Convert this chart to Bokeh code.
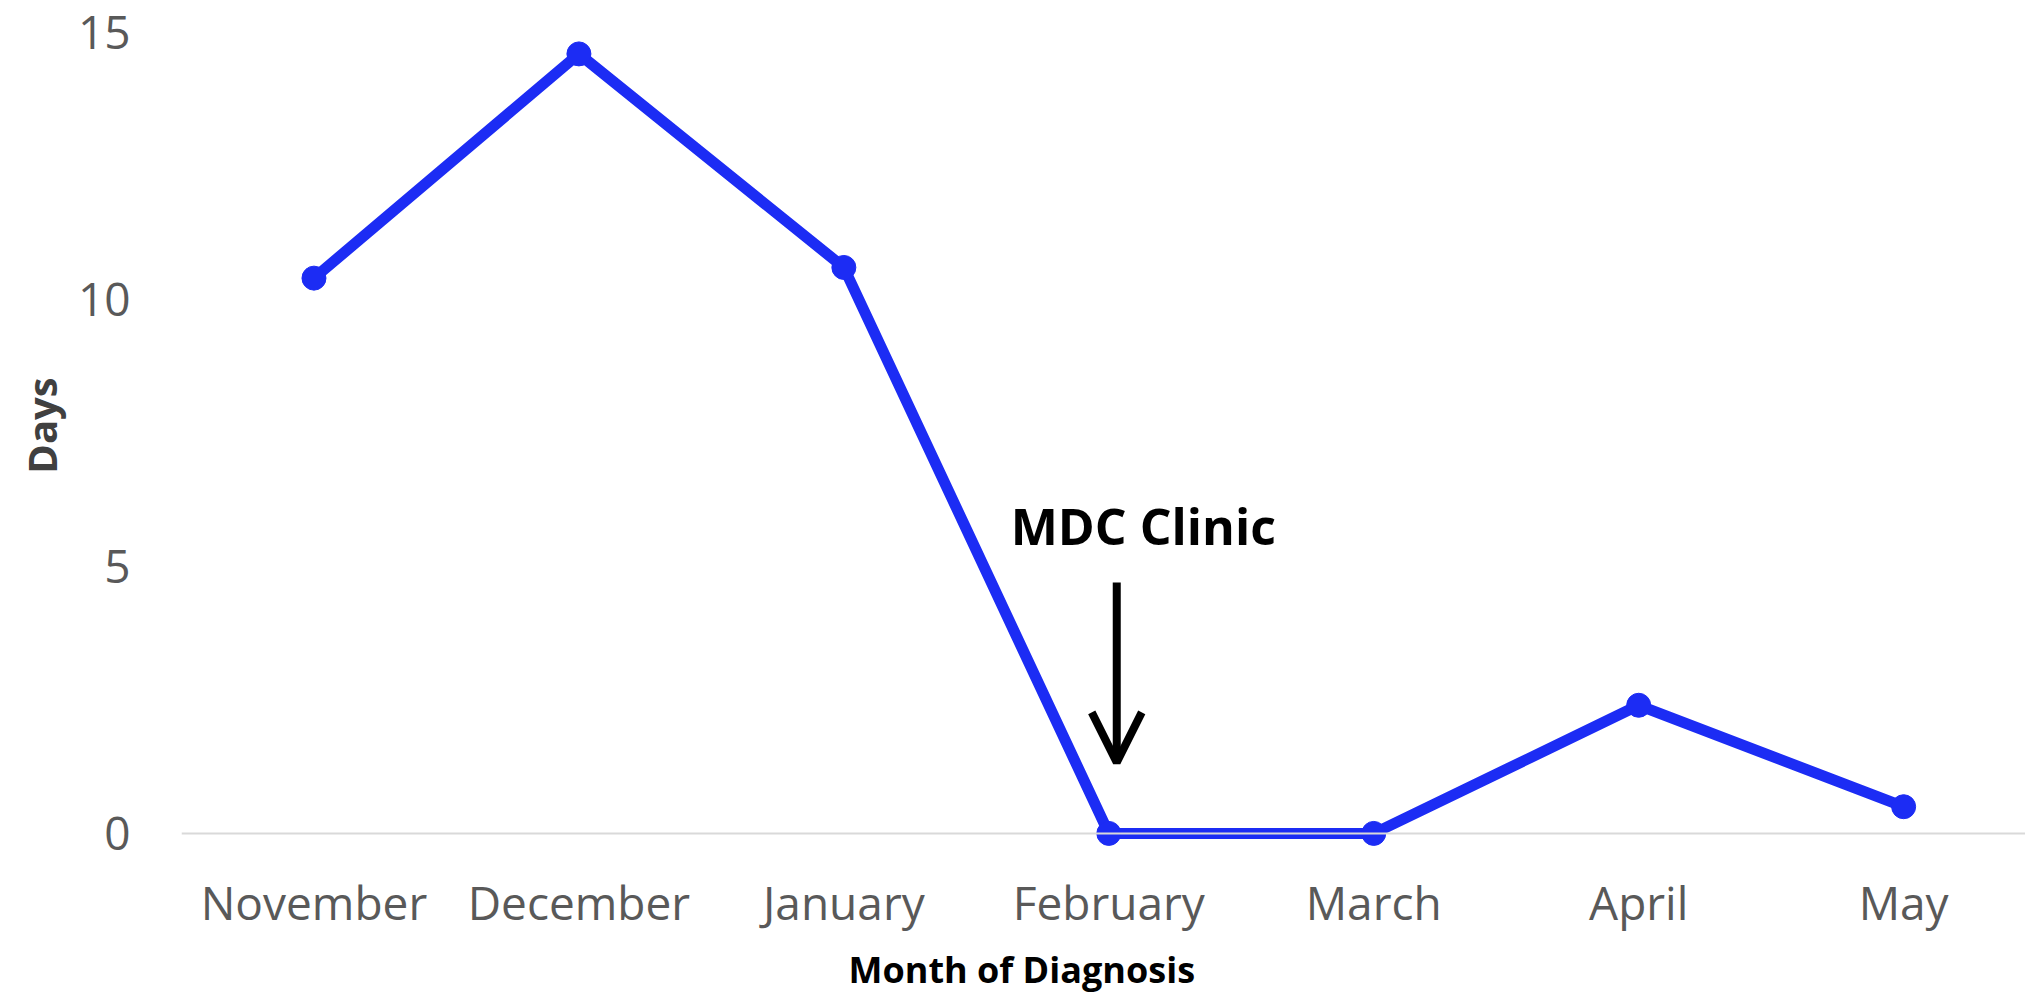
from bokeh.plotting import figure
from bokeh.models import Span, Arrow, OpenHead, Label, FixedTicker, Range1d, Title
from bokeh.embed import file_html
from bokeh.resources import INLINE

months = ["November", "December", "January", "February", "March", "April", "May"]
days = [10.4, 14.6, 10.6, 0.0, 0.0, 2.4, 0.5]
y_ticks = [0, 5, 10, 15]

FONT = "Open Sans"
BLUE = "#1c2cf4"

xs = list(range(len(months)))

p = figure(width=2025, height=1006, output_backend="svg", toolbar_location=None,
           x_range=Range1d(-0.5, 6.46), y_range=Range1d(-0.32, 15.6),
           min_border_left=181, min_border_right=0, min_border_top=0, min_border_bottom=156)
p.outline_line_color = None
p.xgrid.visible = False
p.ygrid.visible = False

p.add_layout(Span(location=0, dimension="width", line_color="#d9d9d9", line_width=2))

p.line(xs, days, line_color=BLUE, line_width=11, line_join="round")
p.scatter(xs, days, size=24, fill_color=BLUE, line_color=BLUE)

# axes
p.xaxis.ticker = FixedTicker(ticks=xs)
p.xaxis.major_label_overrides = {i: m for i, m in enumerate(months)}
p.xaxis.axis_line_color = None
p.xaxis.major_tick_line_color = None
p.xaxis.minor_tick_line_color = None
p.xaxis.major_tick_out = 0
p.xaxis.major_tick_in = 0
p.xaxis.major_label_standoff = 20
p.xaxis.major_label_text_font = FONT
p.xaxis.major_label_text_font_size = "46px"
p.xaxis.major_label_text_color = "#595959"

p.yaxis.ticker = FixedTicker(ticks=y_ticks)
p.yaxis.axis_line_color = None
p.yaxis.major_tick_line_color = None
p.yaxis.minor_tick_line_color = None
p.yaxis.major_tick_out = 0
p.yaxis.major_tick_in = 0
p.yaxis.major_label_standoff = 51
p.yaxis.major_label_text_font = FONT
p.yaxis.major_label_text_font_size = "46px"
p.yaxis.major_label_text_color = "#595959"
p.yaxis.axis_label = "Days"
p.yaxis.axis_label_text_font = FONT
p.yaxis.axis_label_text_font_style = "bold"
p.yaxis.axis_label_text_font_size = "40px"
p.yaxis.axis_label_text_color = "#404040"
p.yaxis.axis_label_standoff = 6

# annotation
p.add_layout(Label(x=3.13, y=5.75, text="MDC Clinic", text_align="center", text_baseline="middle",
                   text_font=FONT, text_font_style="bold", text_font_size="50px", text_color="black"))
p.add_layout(Arrow(end=OpenHead(size=50, line_width=8, line_color="black"),
                   x_start=3.03, y_start=4.7, x_end=3.03, y_end=1.33,
                   line_width=8, line_color="black"))

# x axis title
p.add_layout(Title(text="Month of Diagnosis", align="left", offset=667, standoff=14,
                   text_font=FONT, text_font_style="bold", text_font_size="36px",
                   text_color="black"), "below")

open("out.html", "w").write(file_html(p, INLINE))
